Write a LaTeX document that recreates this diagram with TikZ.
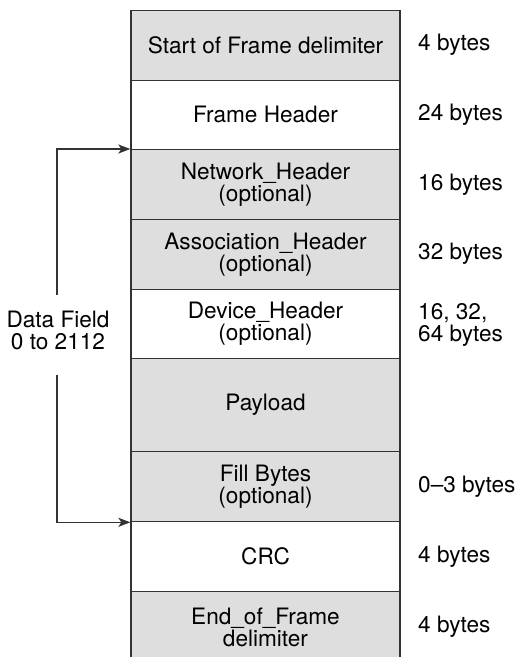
\documentclass[tikz,border=0pt]{standalone}
\usepackage{fontspec}
\setmainfont{TeX Gyre Heros}
\usetikzlibrary{arrows.meta}
\definecolor{rowgray}{HTML}{DEDEDE}
\definecolor{linegray}{HTML}{333333}
\tikzset{
  rowbox/.style={draw=linegray, line width=1.3pt, rectangle, minimum width=269pt, inner sep=0pt, anchor=north, align=center},
  grayrow/.style={rowbox, fill=rowgray},
  whiterow/.style={rowbox, fill=white},
  sizelabel/.style={anchor=west, align=left, inner sep=0pt},
  bracket/.style={draw=linegray, line width=1.3pt, -{Stealth[length=12pt,width=9pt,inset=3pt]}},
}
\begin{document}
\begin{tikzpicture}[x=1pt,y=-1pt,font=\fontsize{22.6}{22}\selectfont]
\useasboundingbox (0,0) rectangle (518,657);
\clip (0,0) rectangle (518,657);
\fill[white] (0,0) rectangle (518,657);
% rows
\node[grayrow, minimum height=69.5pt] (sof) at (265.5,10) {Start of Frame delimiter};
\node[whiterow, minimum height=69.5pt] (fh) at (265.5,79.5) {Frame Header};
\node[grayrow, minimum height=70pt] (nh) at (265.5,149) {Network\textunderscore Header\\(optional)};
\node[grayrow, minimum height=69.5pt] (ah) at (265.5,219) {Association\textunderscore Header\\(optional)};
\node[whiterow, minimum height=69.5pt] (dh) at (265.5,288.5) {Device\textunderscore Header\\(optional)};
\node[grayrow, minimum height=93pt] (pl) at (265.5,358) {Payload};
\node[grayrow, minimum height=70pt] (fb) at (265.5,451) {Fill Bytes\\(optional)};
\node[whiterow, minimum height=70pt] (crc) at (265.5,521) {CRC};
\node[grayrow, minimum height=72pt] (eof) at (265.5,591) {End\textunderscore of\textunderscore Frame\\delimiter};
% size labels
\node[sizelabel] (s1) at (418,45) {4 bytes};
\node[sizelabel] (s2) at (418,114.5) {24 bytes};
\node[sizelabel] (s3) at (418,184.5) {16 bytes};
\node[sizelabel] (s4) at (418,254) {32 bytes};
\node[sizelabel] (s5) at (418,325) {16, 32,\\64 bytes};
\node[sizelabel] (s6) at (418,486.5) {0--3 bytes};
\node[sizelabel] (s7) at (418,556.5) {4 bytes};
\node[sizelabel] (s8) at (418,626.5) {4 bytes};
% data field bracket
\node[align=center, inner sep=0pt] (df) at (58,330) {Data Field\\0 to 2112};
\coordinate (dtop) at (57,295);
\coordinate (dbot) at (57,375);
\draw[bracket] (dtop) |- (nh.north west);
\draw[bracket] (dbot) |- (fb.south west);
\end{tikzpicture}
\end{document}
